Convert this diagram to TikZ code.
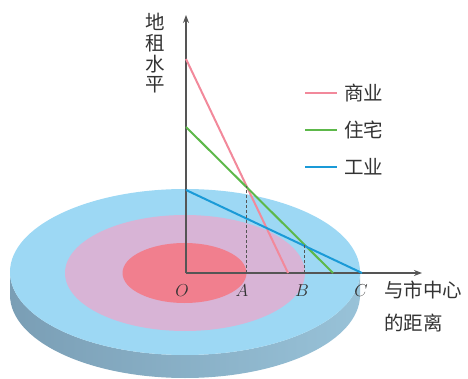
\documentclass[tikz,border=0pt]{standalone}
\usepackage{fontspec}
\newfontfamily\cjk{Noto Sans CJK SC}
\usetikzlibrary{arrows.meta}
\definecolor{diskTop}{HTML}{9DD8F4}
\definecolor{diskMid}{HTML}{D8B4D6}
\definecolor{diskIn}{HTML}{F17F8E}
\definecolor{sideDark}{HTML}{7A9EB5}
\definecolor{sideLight}{HTML}{98C2D8}
\definecolor{lineRed}{HTML}{F2899B}
\definecolor{lineGreen}{HTML}{5DB84A}
\definecolor{lineBlue}{HTML}{1A9AD7}
\definecolor{axisGray}{HTML}{555555}
\definecolor{txt}{HTML}{333333}
\begin{document}
\begin{tikzpicture}[x=1pt,y=-1pt,
  cjklab/.style={font=\cjk\fontsize{19.5}{20.7}\selectfont, text=txt, inner sep=0pt},
  ltr/.style={font=\fontsize{19}{20}\selectfont, text=txt, inner sep=0pt},
  axisline/.style={draw=axisGray, line width=1.4pt, -{Stealth[length=8pt,width=6pt]}},
  curve/.style={line width=2pt},
  guide/.style={draw=axisGray, line width=0.9pt, dash pattern=on 3pt off 2pt}]
\useasboundingbox (0,0) rectangle (468,379);
% disk side
\shade[left color=sideDark, right color=sideLight]
  (10,272) arc[start angle=180, end angle=360, x radius=175pt, y radius=83pt]
  -- ++(0,23) arc[start angle=0, end angle=-180, x radius=175pt, y radius=83pt] -- cycle;
% disk top
\fill[diskTop] (185,272) ellipse [x radius=175pt, y radius=83pt];
\fill[diskMid] (185,273) ellipse [x radius=120pt, y radius=58pt];
\fill[diskIn] (184.5,273) ellipse [x radius=62pt, y radius=30pt];
% axes
\coordinate (O) at (186,273);
\coordinate (ytip) at (186,15);
\coordinate (xtip) at (422,273);
\draw[axisline] (O) -- (ytip);
\draw[axisline] (O) -- (xtip);
% lines
\coordinate (r0) at (186,59);   \coordinate (r1) at (288,273);
\coordinate (g0) at (186,127);  \coordinate (g1) at (333,273);
\coordinate (b0) at (186,190);  \coordinate (b1) at (362,273);
\draw[curve, lineRed] (r0) -- (r1);
\draw[curve, lineGreen] (g0) -- (g1);
\draw[curve, lineBlue] (b0) -- (b1);
% dashed guides
\coordinate (pa) at (246,273); \coordinate (qa) at (246,186);
\coordinate (pb) at (304,273); \coordinate (qb) at (304,244.5);
\draw[guide] (pa) -- (qa);
\draw[guide] (pb) -- (qb);
% point labels
\node[ltr] (lO) at (182,291) {$O$};
\node[ltr] (lA) at (242,291) {$A$};
\node[ltr] (lB) at (302,291) {$B$};
\node[ltr] (lC) at (361,291) {$C$};
% axis titles
\node[cjklab, align=center] (ylab) at (155.5,53.5) {地\\租\\水\\平};
\node[cjklab, anchor=west] (xlab1) at (384,290) {与市中心};
\node[cjklab, anchor=west] (xlab2) at (384,323) {的距离};
% legend
\coordinate (la1) at (305,93);  \coordinate (la2) at (337,93);
\coordinate (lb1) at (305,130); \coordinate (lb2) at (337,130);
\coordinate (lc1) at (305,167); \coordinate (lc2) at (337,167);
\draw[line width=2pt, lineRed] (la1) -- (la2);
\draw[line width=2pt, lineGreen] (lb1) -- (lb2);
\draw[line width=2pt, lineBlue] (lc1) -- (lc2);
\node[cjklab, anchor=west] (t1) at (344,93) {商业};
\node[cjklab, anchor=west] (t2) at (344,130) {住宅};
\node[cjklab, anchor=west] (t3) at (344,167) {工业};
\end{tikzpicture}
\end{document}
